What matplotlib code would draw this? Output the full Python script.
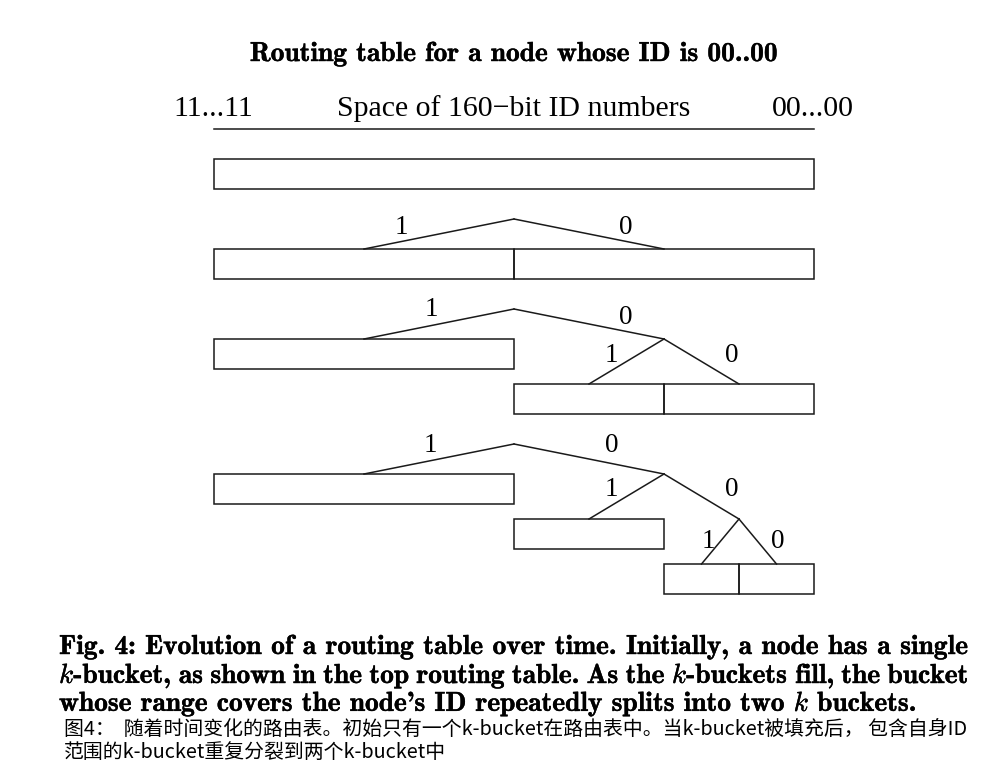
import matplotlib
matplotlib.use('Agg')
import matplotlib.pyplot as plt
import matplotlib.patheffects as pe
from matplotlib.patches import Rectangle

plt.rcParams['mathtext.fontset'] = 'cm'

# ---- data ----
title = 'Routing table for a node whose ID is 00..00'
space_left = '11...11'
space_mid = 'Space of 160\u2212bit ID numbers'
space_right = '00...00'
# buckets of each routing table, as ID prefixes (bit 1 = left half)
tables = [[''], ['1', '0'], ['1', '01', '00'], ['1', '01', '001', '000']]
caption_en = ['Fig.~4: Evolution of a routing table over time. Initially, a node has a single',
              '$k$-bucket, as shown in the top routing table. As the $k$-buckets fill, the bucket',
              "whose range covers the node's ID repeatedly splits into two $k$ buckets."]
caption_zh = ['图4：  随着时间变化的路由表。初始只有一个k-bucket在路由表中。当k-bucket被填充后， 包含自身ID',
              '范围的k-bucket重复分裂到两个k-bucket中']

# ---- layout ----
W, H = 997, 776
X0, X1 = 214, 814
table_top = [159, 249, 339, 474]
BOX_H, APEX, STEP = 30, 30, 45
# label offsets from branch midpoint, per table, in branch order
label_off = [[],
             [(-38, -9), (37, -9)],
             [(-8, -17), (37, -9), (-15, -9), (30, -9)],
             [(-9, -16), (23, -16), (-15, -9), (30, -9), (-12, -2), (20, -2)]]
LC = '#1a1a1a'
BOLD = dict(family='cmb10', fontsize=19.8,
            path_effects=[pe.withStroke(linewidth=0.3, foreground='black')])

fig = plt.figure(figsize=(W / 100, H / 100), dpi=100)
ax = fig.add_axes([0, 0, 1, 1])
ax.set_xlim(0, W)
ax.set_ylim(H, 0)
ax.axis('off')
renderer = fig.canvas.get_renderer()


def span(p):
    start = sum(0.5 ** (i + 1) for i, b in enumerate(p) if b == '0')
    return X0 + (X1 - X0) * start, X0 + (X1 - X0) * (start + 0.5 ** len(p))


def level_y(t, d, leaf):
    if d == 0:
        return table_top[t] if leaf else table_top[t] - APEX
    return table_top[t] + STEP * (d - 1)


ax.text((X0 + X1) / 2, 61, title, ha='center', va='baseline', **BOLD)
ax.text(173, 116, space_left, family='Liberation Serif', fontsize=21.5, va='baseline')
ax.text(337, 116, space_mid, family='Liberation Serif', fontsize=21.5, va='baseline')
ax.text(854, 116, space_right, family='Liberation Serif', fontsize=21.5, va='baseline', ha='right')
ax.plot([X0, X1], [129, 129], color=LC, lw=1.1)

for t, buckets in enumerate(tables):
    for p in buckets:
        a, b = span(p)
        y = level_y(t, len(p), True)
        ax.add_patch(Rectangle((a, y), b - a, BOX_H, fill=False, ec=LC, lw=1.1))
    if len(buckets) < 2:
        continue
    nodes = sorted({p[:i] for p in buckets for i in range(len(p))}, key=len)
    k = 0
    for n in nodes:
        a, b = span(n)
        px, py = (a + b) / 2, level_y(t, len(n), False)
        for bit in '10':
            c = n + bit
            ca, cb = span(c)
            cx, cy = (ca + cb) / 2, level_y(t, len(c), c in buckets)
            ax.plot([px, cx], [py, cy], color=LC, lw=1.1)
            dx, dy = label_off[t][k]
            ax.text((px + cx) / 2 + dx, (py + cy) / 2 + dy + 9, bit, family='Liberation Serif',
                    fontsize=19.5, ha='center', va='baseline')
            k += 1


def justify(line, x0, x1, y, **kw):
    words = [w.replace('~', ' ') for w in line.split(' ')]
    texts = [ax.text(0, y, w, va='baseline', **kw) for w in words]
    widths = [tx.get_window_extent(renderer).width for tx in texts]
    gap = (x1 - x0 - sum(widths)) / (len(words) - 1)
    x = x0
    for tx, w in zip(texts, widths):
        tx.set_x(x)
        x += w + gap


en_base = [654, 683, 711]
for i, line in enumerate(caption_en):
    if i < len(caption_en) - 1:
        justify(line, 59, 968, en_base[i], **BOLD)
    else:
        ax.text(59, en_base[i], line.replace('~', ' '), va='baseline', **BOLD)

zh_mid = [729, 752]
for i, line in enumerate(caption_zh):
    ax.text(64, zh_mid[i], line, family=['Noto Sans CJK SC', 'DejaVu Sans'], fontsize=14.3,
            va='center')

fig.savefig('out.png', dpi=100, facecolor='white')
